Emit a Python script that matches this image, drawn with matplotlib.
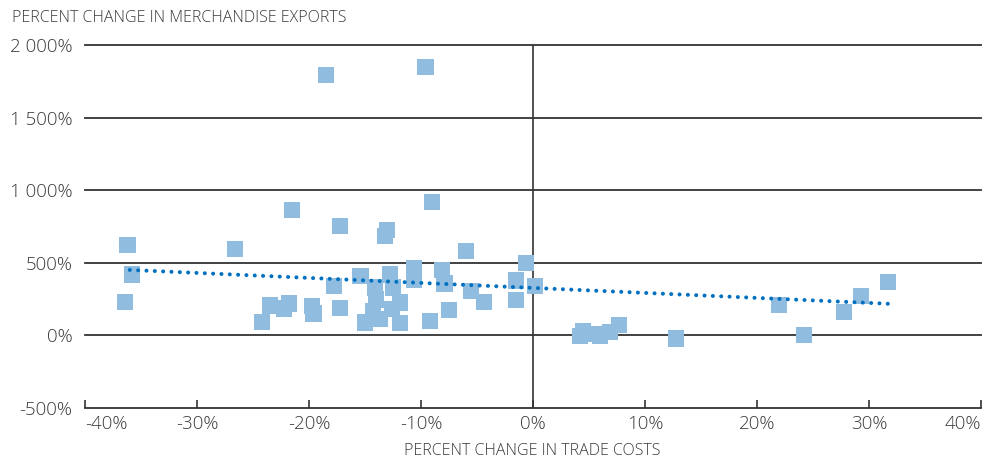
import matplotlib
matplotlib.use("Agg")
import matplotlib.pyplot as plt
import numpy as np

# ---- data ----
trade_cost_change = [
    -36.2, -35.8, -36.4, -26.6, -18.5, -9.6, -21.5, -9.0, -17.2, -13.0,
    -13.2, -6.0, -0.65, -10.6, -10.6, -8.1, -7.9, -15.4, -12.8, -17.8,
    -1.5, 0.2, -5.5, -4.4, -1.5, -7.5, -17.2, -9.2, -14.1, -12.5,
    -14.0, -11.9, -14.3, -12.6, -15.0, -13.7, -11.9, -24.2, -23.5,
    -22.2, -21.8, -19.7, -19.6, 4.5, 4.2, 5.4, 6.0, 6.9, 7.7,
    12.8, 22.0, 24.2, 27.8, 29.3, 31.7,
]
export_change = [
    625, 419, 229, 598, 1793, 1848, 865, 916, 751, 728,
    687, 579, 497, 467, 385, 448, 357, 407, 419, 343,
    378, 339, 304, 229, 242, 174, 188, 98, 330, 330,
    247, 227, 167, 179, 89, 110, 87, 91, 206,
    185, 220, 201, 151, 30, -5, 7, -5, 21, 69,
    -21, 208, 0, 160, 270, 366,
]
trend_x = [-36.0, 31.7]
trend_y = [451, 218]

x_ticks = [-40, -30, -20, -10, 0, 10, 20, 30, 40]
x_tick_labels = ["-40%", "-30%", "-20%", "-10%", "0%", "10%", "20%", "30%", "40%"]
y_ticks = [-500, 0, 500, 1000, 1500, 2000]
y_tick_labels = ["-500%", "0%", "500%", "1 000%", "1 500%", "2 000%"]

y_title = "PERCENT CHANGE IN MERCHANDISE EXPORTS"
x_title = "PERCENT CHANGE IN TRADE COSTS"

# ---- style ----
plt.rcParams['font.family'] = ['Open Sans', 'DejaVu Sans']
plt.rcParams['font.weight'] = 'light'
text_color = '#3a3a3a'
line_color = '#333333'
marker_color = '#8FBCDF'
trend_color = '#0070C0'

fig = plt.figure(figsize=(9.87, 4.58), dpi=100)
ax = fig.add_axes([85/987, 1 - 408/458, (981-85)/987, (408-45)/458])

ax.set_xlim(-40, 40)
ax.set_ylim(-500, 2000)

for yv in y_ticks[1:]:
    ax.axhline(yv, color=line_color, lw=1.3, zorder=1, clip_on=False)
ax.axvline(0, color=line_color, lw=1.2, zorder=1)

ax.scatter(trade_cost_change, export_change, marker='s', s=135,
           color=marker_color, edgecolors='none', zorder=2)

ax.plot(trend_x, trend_y, color=trend_color, lw=2.9,
        linestyle=(0, (0.01, 2.06)), dash_capstyle='round', zorder=3)

for side in ['left', 'right', 'top']:
    ax.spines[side].set_visible(False)
ax.spines['bottom'].set_color(line_color)
ax.spines['bottom'].set_linewidth(1.3)

ax.set_xticks(x_ticks)
ax.set_xticklabels(x_tick_labels)
ax.set_yticks(y_ticks)
ax.set_yticklabels(y_tick_labels)
ax.tick_params(axis='x', direction='in', length=6, width=1.2, color=line_color,
               labelsize=13.5, labelcolor=text_color, pad=5)
ax.tick_params(axis='y', length=0, labelsize=13.5, labelcolor=text_color, pad=9)

xl = ax.get_xticklabels()
xl[0].set_horizontalalignment('left')
xl[-1].set_horizontalalignment('right')

fig.text(12/987, 1 - 18/458, y_title, ha='left', va='center',
         fontsize=11.5, color=text_color)
fig.text(532/987, 1 - 451/458, x_title, ha='center', va='center',
         fontsize=11.5, color=text_color)

fig.savefig("out.png", dpi=100)
